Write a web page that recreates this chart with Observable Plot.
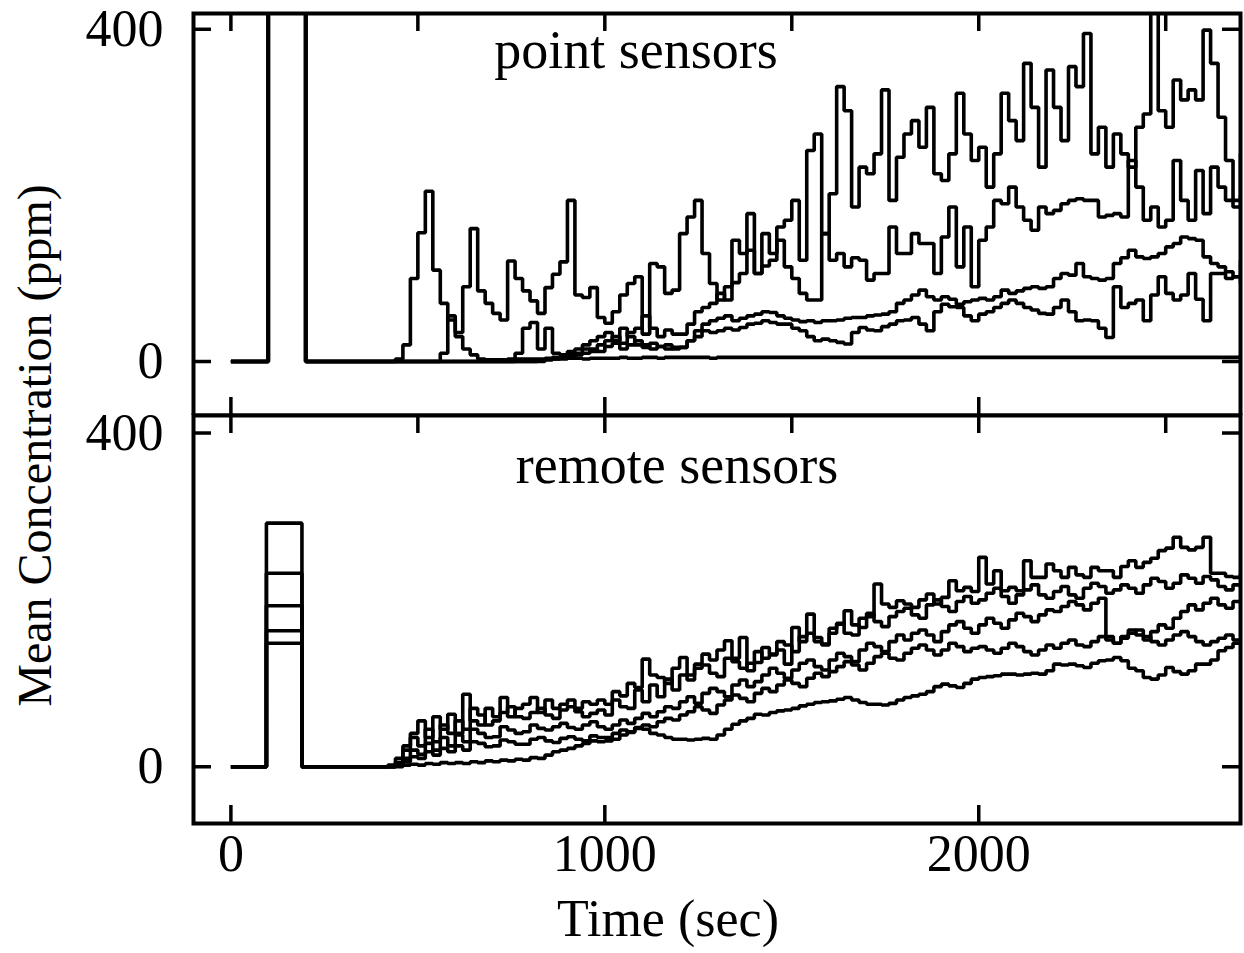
<!DOCTYPE html>
<html>
<head>
<meta charset="utf-8">
<script src="https://cdn.jsdelivr.net/npm/d3@7"></script>
<script src="https://cdn.jsdelivr.net/npm/@observablehq/plot@0.6"></script>
<style>
  html, body { margin: 0; padding: 0; background: #fff; }
  #chart { width: 1244px; }
</style>
</head>
<body>
<div id="chart"></div>
<script>
// ---------------- data ----------------
// digitised record: one value every 20 s from 400 s to 2700 s
const gridStart = 400, gridStep = 20, gridEnd = 2700;
// release pulse before the record: [baseline start, pulse on, pulse off]
const pointLeadTimes = [0, 100, 200];
const remoteLeadTimes = [0, 95, 190];
// pulse heights (point sensors go off scale)
const pointPulse = [1000, 1000, 1000, 1000, 1000];
const remotePulse = [292, 232, 193, 163, 148];

// point sensors (ppm)
const pointA = [
  0,0,0,0,0,0,0,0,10,55,
  35,90,160,85,70,58,50,121,100,85,
  73,58,89,105,120,194,80,77,89,53,
  46,60,80,94,102,33,118,114,82,86,
  154,174,194,130,94,74,90,146,130,178,
  106,154,130,162,170,194,122,254,274,154,
  202,331,302,186,234,226,250,327,194,246,
  274,290,258,306,226,218,250,323,274,242,
  258,210,250,323,290,266,359,306,234,351,
  306,266,355,331,395,250,282,234,274,250,
  234,282,298,430,302,282,339,315,327,315,
  399,359,294,242,194,250];
const pointB = [
  0,0,0,0,0,0,0,0,0,0,
  0,0,0,0,0,0,0,0,0,0,
  0,2,3,5,5,8,10,15,12,20,
  25,30,22,35,40,55,40,30,38,33,
  33,45,60,65,70,82,74,95,106,134,
  106,115,122,146,114,100,82,74,74,154,
  122,130,114,125,122,98,106,106,162,130,
  130,154,142,142,106,150,186,114,162,90,
  146,162,194,190,210,186,170,158,186,178,
  182,190,194,196,194,194,174,176,178,174,
  242,210,170,186,162,170,242,194,170,230,
  178,234,210,194,186,200];
const pointC = [
  0,0,0,0,0,0,0,0,0,0,
  0,0,0,0,0,0,0,0,0,0,
  0,0,2,3,5,5,8,10,15,12,
  18,22,15,20,25,20,15,18,15,17,
  17,25,37,45,49,52,55,49,52,55,
  57,60,59,55,52,50,48,49,47,49,
  49,50,52,53,53,55,56,57,60,70,
  74,80,86,78,74,78,75,69,72,74,
  76,74,78,86,82,85,88,90,88,90,
  100,106,104,118,102,100,98,100,118,125,
  134,126,124,126,130,138,142,150,148,146,
  126,118,114,108,102,122];
const pointD = [
  0,0,0,0,0,0,0,0,0,0,
  0,0,0,0,0,0,0,0,10,40,
  47,15,40,10,8,12,15,20,25,30,
  35,25,40,30,20,17,22,18,20,15,
  17,25,30,37,35,37,40,38,41,45,
  46,49,47,45,45,40,37,30,25,27,
  25,23,21,35,41,38,37,42,45,49,
  50,53,45,37,60,69,66,65,55,49,
  57,60,65,70,74,70,65,62,58,57,
  65,74,60,49,50,49,40,29,90,65,
  70,74,49,80,102,82,74,80,106,75,
  49,106,106,100,102,94];
const pointE = [
  0,0,3,20,100,155,205,110,70,50,
  30,15,8,3,2,2,2,3,3,3,
  3,3,4,3,3,4,4,3,4,4,
  4,4,5,4,4,5,5,4,5,5,
  5,5,5,5,4,5,5,5,5,5,
  5,5,5,5,5,5,5,5,5,5,
  5,5,5,5,5,5,5,5,5,5,
  5,5,5,5,5,5,5,5,5,5,
  5,5,5,5,5,5,5,5,5,5,
  5,5,5,5,5,5,5,5,5,5,
  5,5,5,5,5,5,5,5,5,5,
  5,5,5,5,5,8];

// remote sensors (ppm)
const remote1 = [
  0,2,10,25,40,55,35,60,45,63,
  40,87,55,50,70,60,83,60,70,75,
  83,65,80,70,75,80,70,78,75,80,
  75,90,85,100,95,129,110,107,100,118,
  131,110,123,135,128,140,151,130,155,115,
  125,143,135,140,123,167,150,183,155,147,
  160,171,187,170,167,180,219,195,191,199,
  195,191,200,207,195,203,223,211,215,210,
  251,219,235,211,215,211,247,227,227,243,
  235,227,239,230,227,239,235,235,227,240,
  247,239,245,250,259,262,275,263,260,263,
  275,232,232,228,227,232];
const remote2 = [
  0,0,5,20,35,25,45,30,50,40,
  55,45,70,62,50,55,65,72,60,58,
  65,70,62,58,68,72,66,60,64,68,
  62,80,72,70,92,78,98,84,105,92,
  110,104,118,122,112,108,130,126,118,124,
  138,130,134,150,146,138,156,160,150,146,
  166,172,160,158,178,184,174,168,180,186,
  190,182,178,194,200,192,186,198,204,196,
  200,208,214,204,196,206,212,218,206,202,
  210,216,206,202,214,220,216,208,212,218,
  214,208,218,226,222,214,220,230,226,220,
  228,224,216,212,218,215];
const remote3 = [
  0,0,3,10,20,15,28,20,35,25,
  38,30,45,40,35,36,48,44,40,42,
  50,46,44,48,52,47,45,50,54,48,
  45,50,56,52,58,64,60,66,72,70,
  78,84,76,88,94,90,84,98,104,96,
  102,110,118,112,106,116,124,128,120,116,
  128,136,132,126,140,148,144,138,150,158,
  152,160,164,158,150,162,170,174,166,160,
  170,178,172,166,176,184,180,174,182,188,
  186,192,198,194,188,196,202,156,148,156,
  164,158,152,162,170,166,178,186,194,188,
  196,202,194,190,198,195];
const remote4 = [
  0,0,2,6,12,10,18,14,22,18,
  25,20,30,28,24,25,32,30,27,27,
  33,35,31,29,34,36,33,31,37,35,
  35,40,44,41,46,50,48,54,58,56,
  62,66,72,68,64,74,80,86,82,78,
  88,94,90,98,104,100,96,106,112,108,
  114,120,126,122,116,124,132,136,130,128,
  136,142,146,140,134,140,148,144,138,142,
  144,140,136,142,148,144,138,134,140,146,
  142,148,152,146,144,150,156,152,148,154,
  160,164,156,150,146,152,158,162,156,150,
  146,150,154,158,152,151];
const remote5 = [
  0,0,0,2,3,2,4,3,5,4,
  5,4,6,5,7,6,8,7,9,8,
  11,10,14,18,20,22,25,28,31,30,
  31,33,38,42,47,45,40,38,35,33,
  33,32,33,34,33,38,45,51,55,58,
  63,62,65,67,68,70,73,75,77,78,
  79,81,83,80,77,75,75,74,76,80,
  83,85,87,90,96,99,97,95,100,105,
  107,108,109,111,111,110,111,112,111,115,
  123,122,123,121,119,124,127,128,131,127,
  118,115,107,105,110,119,114,111,115,123,
  123,128,139,143,148,151];

// axis ticks and labels
const xTicksTop = [0, 500, 1000, 1500, 2000, 2500];
const xTicksBottom = [0, 1000, 2000];
const xTickLabels = [0, 1000, 2000];
const yTicks = [0, 400];
const panelTitles = ["point sensors", "remote sensors"];
const xLabel = "Time (sec)";
const yLabel = "Mean Concentration (ppm)";

// ---------------- build ----------------
const gridTimes = d3.range(gridStart, gridEnd + 1, gridStep);

function buildRows(seriesList, pulses, leadTimes) {
  const rows = [];
  seriesList.forEach((vals, k) => {
    const leadVals = [0, pulses[k], 0];
    leadTimes.forEach((t, j) => rows.push({series: k, t, v: leadVals[j]}));
    vals.forEach((v, i) => rows.push({series: k, t: gridTimes[i], v}));
  });
  return rows;
}

const pointRows = buildRows([pointA, pointB, pointC, pointD, pointE], pointPulse, pointLeadTimes);
const remoteRows = buildRows([remote1, remote2, remote3, remote4, remote5], remotePulse, remoteLeadTimes);

const FONT = "'Liberation Serif', 'Times New Roman', Times, serif";
const WIDTH = 1244, ML = 193, MR = 4, TICK = 18;
const plotW = WIDTH - ML - MR;

function panel({rows, height, marginTop, marginBottom, yDomain, title, titleDx, titleDy, bottom}) {
  const plotH = height - marginTop - marginBottom;
  const txt = {fontFamily: FONT, fill: "black", lineAnchor: "middle"};
  const marks = [
    Plot.line(rows, {x: "t", y: "v", z: "series", curve: "step-after",
      stroke: "black", strokeWidth: 3.6, strokeLinejoin: "miter", strokeLinecap: "butt", clip: true}),
    Plot.frame({stroke: "black", strokeWidth: 4}),
    Plot.ruleX(xTicksTop, {x: d => d, insetBottom: plotH - TICK, stroke: "black", strokeWidth: 3.5}),
    Plot.ruleX(xTicksBottom, {x: d => d, insetTop: plotH - TICK, stroke: "black", strokeWidth: 3.5}),
    Plot.ruleY(yTicks, {y: d => d, insetRight: plotW - TICK, stroke: "black", strokeWidth: 3.5}),
    Plot.ruleY(yTicks, {y: d => d, insetLeft: plotW - TICK, stroke: "black", strokeWidth: 3.5}),
    Plot.text(yTicks, {...txt, y: d => d, text: d => String(d), frameAnchor: "left",
      textAnchor: "end", dx: -30, fontSize: 52}),
    Plot.text([title], {...txt, frameAnchor: "top", textAnchor: "middle", dx: titleDx,
      dy: titleDy, fontSize: 54})
  ];
  if (bottom) {
    marks.push(
      Plot.text(xTickLabels, {...txt, x: d => d, text: d => String(d), frameAnchor: "bottom",
        textAnchor: "middle", dy: 31, fontSize: 52}),
      Plot.text([xLabel], {...txt, frameAnchor: "bottom", textAnchor: "middle", dx: -49, dy: 96,
        fontSize: 52}),
      Plot.text([yLabel], {...txt, frameAnchor: "top-left", textAnchor: "middle",
        dx: -158, dy: 30, rotate: -90, fontSize: 48})
    );
  }
  return Plot.plot({
    width: WIDTH, height,
    marginLeft: ML, marginRight: MR, marginTop, marginBottom,
    x: {domain: [-100, 2700], axis: null},
    y: {domain: yDomain, axis: null},
    style: bottom
      ? {overflow: "visible", position: "relative", background: "transparent", fontFamily: FONT}
      : {background: "white", fontFamily: FONT},
    marks
  });
}

const chart = document.getElementById("chart");
chart.append(panel({rows: pointRows, height: 415, marginTop: 13, marginBottom: 0,
  yDomain: [-65, 419], title: panelTitles[0], titleDx: -81, titleDy: 37, bottom: false}));
chart.append(panel({rows: remoteRows, height: 538, marginTop: 0, marginBottom: 130,
  yDomain: [-68, 421], title: panelTitles[1], titleDx: -40, titleDy: 50, bottom: true}));
</script>
</body>
</html>
